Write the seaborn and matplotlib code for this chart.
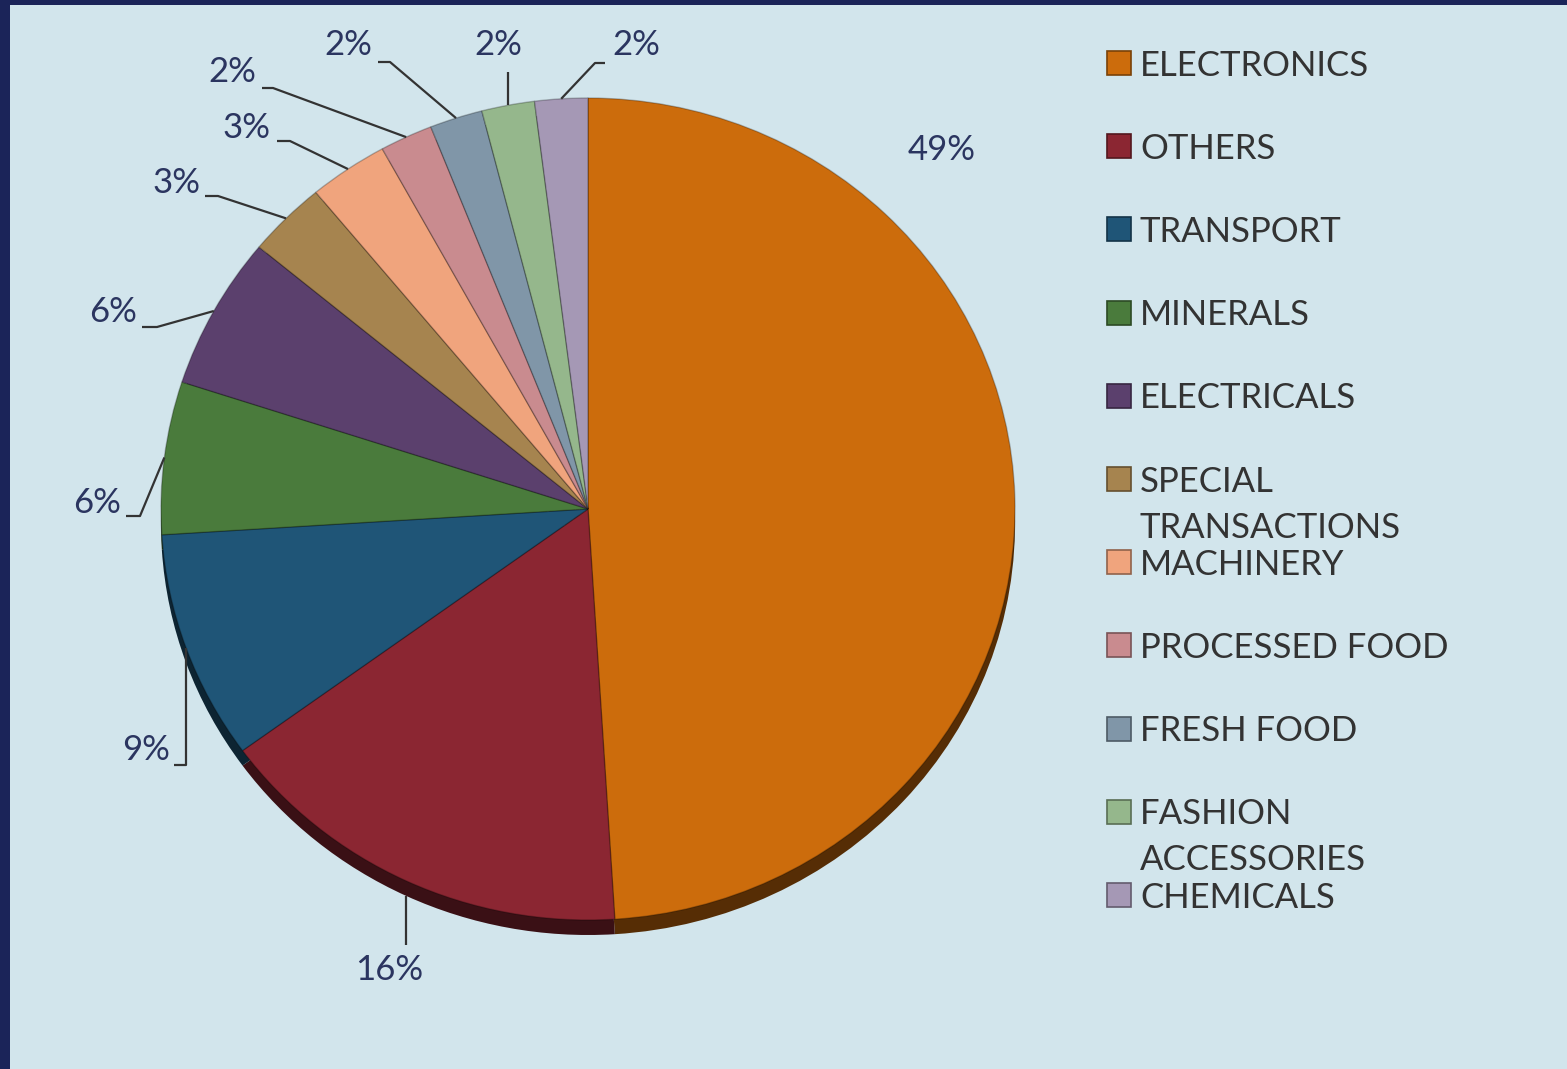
import matplotlib
matplotlib.use("Agg")
from matplotlib import pyplot as plt
from matplotlib.patches import Rectangle
import matplotlib.colors as mcolors
import numpy as np
import seaborn as sns

categories = ["ELECTRONICS", "OTHERS", "TRANSPORT", "MINERALS", "ELECTRICALS",
              "SPECIAL TRANSACTIONS", "MACHINERY", "PROCESSED FOOD", "FRESH FOOD",
              "FASHION ACCESSORIES", "CHEMICALS"]
legend_lines = [["ELECTRONICS"], ["OTHERS"], ["TRANSPORT"], ["MINERALS"], ["ELECTRICALS"],
                ["SPECIAL", "TRANSACTIONS"], ["MACHINERY"], ["PROCESSED FOOD"], ["FRESH FOOD"],
                ["FASHION", "ACCESSORIES"], ["CHEMICALS"]]
shares = [49, 16, 9, 6, 6, 3, 3, 2, 2, 2, 2]
pct_labels = [f"{v}%" for v in shares]

colors = ["#cc6c0c", "#8b2632", "#1f5577", "#4a7b3c", "#5b406d", "#a6844f",
          "#f0a47d", "#c98b8f", "#8096a8", "#95b78c", "#a598b5"]

sns.set_theme(style="white")
plt.rcParams['font.family'] = ['Lato', 'DejaVu Sans']

W, H = 1567, 1069
CX, CY, RX, RY = 588, 509, 427, 411
DEPTH = 15


def px(x, y):
    # pixel position (from top-left) -> data units of the pie axes
    return (x - CX) / RX, (CY - y) / RY


fig = plt.figure(figsize=(W / 100, H / 100), dpi=100)
fig.patch.set_facecolor("#1b2459")
fig.patches.append(Rectangle((10 / W, 0), 1, 1 - 5 / H, transform=fig.transFigure,
                             facecolor="#d2e5ec", edgecolor="none", zorder=-5))

ax = fig.add_axes([0, 0, 1, 1])
ax.set_facecolor("none")
ax.set_zorder(2)

# darker copy below gives the 3D rim
dark = [tuple(c * 0.42 for c in mcolors.to_rgb(col)) for col in colors]
ax.pie(shares, colors=dark, startangle=90, counterclock=False,
       center=(0, -DEPTH / RY), wedgeprops=dict(linewidth=0, zorder=1))
wedges, _ = ax.pie(shares, colors=colors, startangle=90, counterclock=False,
                   wedgeprops=dict(edgecolor=(0, 0, 0, 0.25), linewidth=1, zorder=2))

ax.set_aspect("auto")
ax.set_xlim(-CX / RX, (W - CX) / RX)
ax.set_ylim((CY - H) / RY, CY / RY)
ax.axis("off")

# label layout in pixels: text centre and leader knees (None -> edge x)
label_pos = [(942, 150), (389, 970), (146, 750), (97, 503), (113, 312), (177, 183),
             (247, 128), (232, 72), (348, 45), (498, 45), (636, 45)]
knees = [[], [(None, 945)], [(174, 765), (None, 765)], [(126, 516), (140, 516)],
         [(142, 327), (157, 327)], [(205, 196), (218, 196)], [(277, 141), (290, 141)],
         [(262, 88), (273, 88)], [(378, 62), (390, 62)], [(None, 72)],
         [(605, 63), (595, 63)]]

for w, lab, pos, kn in zip(wedges, pct_labels, label_pos, knees):
    mid = np.deg2rad((w.theta1 + w.theta2) / 2)
    ex, ey = np.cos(mid), np.sin(mid)
    if ey < -0.5:
        ey -= DEPTH / RY
    tx, ty = px(*pos)
    ax.text(tx, ty, lab, ha="center", va="center", fontsize=25, color="#2b3560", zorder=5)
    if kn:
        xs, ys = [], []
        for kx, ky in kn:
            dx, dy = px(kx if kx is not None else 0, ky)
            xs.append(ex if kx is None else dx)
            ys.append(dy)
        xs.append(ex)
        ys.append(ey)
        ax.plot(xs, ys, color="#333333", lw=1.6, zorder=4, solid_capstyle="butt")

# legend drawn row by row so wrapped names spill into the gap like the original
for i, (lines, col) in enumerate(zip(legend_lines, colors)):
    yc = 63 + 83.2 * i
    x0, y0 = px(1107, yc + 12)
    x1, y1 = px(1131, yc - 12)
    ax.add_patch(Rectangle((x0, y0), x1 - x0, y1 - y0, facecolor=col,
                           edgecolor=tuple(c * 0.6 for c in mcolors.to_rgb(col)),
                           linewidth=1.2, zorder=3, clip_on=False))
    for j, line in enumerate(lines):
        lx, ly = px(1140, yc + 46 * j + 12.5)
        ax.text(lx, ly, line, ha="left", va="baseline", fontsize=25,
                color="#333333", zorder=5)

fig.savefig("out.png", dpi=100, facecolor=fig.get_facecolor())
